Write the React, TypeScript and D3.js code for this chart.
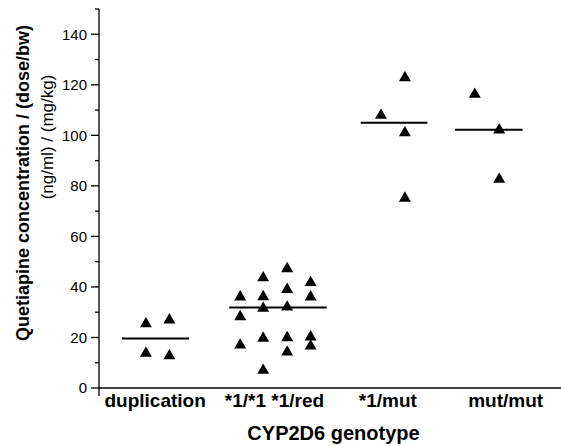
import React from "react";
import * as d3 from "d3";

// Groups (x in arbitrary data units along the genotype axis)
const groupLabels = ["duplication", "*1/*1 *1/red", "*1/mut", "mut/mut"];
const labelX = [1.22, 3.815, 6.28, 8.84];
const meanValues = [19.6, 31.9, 105.0, 102.2];
const meanStart = [0.5, 2.83, 5.69, 7.74];
const meanEnd = [1.96, 4.95, 7.14, 9.21];

// Individual observations: [group index, x slot (data units), value]
const pointGroup = [0, 0, 0, 0,
  1, 1, 1, 1, 1, 1, 1, 1, 1, 1, 1, 1, 1, 1, 1, 1, 1,
  2, 2, 2, 2,
  3, 3, 3];
const pointX = [1.02, 1.53, 1.02, 1.53,
  3.07, 3.07, 3.07, 3.57, 3.57, 3.57, 3.57, 3.57, 4.09, 4.09, 4.09, 4.09, 4.09, 4.6, 4.6, 4.6, 4.6,
  6.13, 6.65, 6.65, 6.65,
  8.17, 8.7, 8.7];
const pointY = [25.8, 27.3, 14.1, 13.1,
  36.4, 28.6, 17.4, 44.0, 36.5, 31.9, 20.1, 7.4, 47.6, 39.4, 32.4, 20.3, 14.6, 42.1, 36.4, 20.6, 17.0,
  108.3, 123.2, 101.4, 75.5,
  116.6, 102.5, 83.0];

const yMajorTicks = [0, 20, 40, 60, 80, 100, 120, 140];
const yMinorTicks = [10, 30, 50, 70, 90, 110, 130, 150];

const yTitle1 = "Quetiapine concentration / (dose/bw)";
const yTitle2 = "(ng/ml) / (mg/kg)";
const xTitle = "CYP2D6 genotype";

const FONT = "'Liberation Sans', Arial, Helvetica, sans-serif";

export default function App() {
  const W = 561;
  const H = 446;
  const axisX = 99;
  const axisY = 388;
  const y = d3.scaleLinear().domain([0, 150]).range([axisY, 9]);
  const x = d3.scaleLinear().domain([0, 10]).range([axisX, 559]);
  const tri = d3.symbol(d3.symbolTriangle, 62)();

  return (
    <svg width={W} height={H} style={{ position: "absolute", left: 0, top: 0, background: "#fff" }}>
      <rect x={0} y={0} width={W} height={H} fill="#fff" />
      {/* axes */}
      <line x1={axisX} x2={axisX} y1={y(150)} y2={axisY + 8} stroke="#000" strokeWidth={1.3} />
      <line x1={axisX} x2={W} y1={axisY} y2={axisY} stroke="#000" strokeWidth={1.3} />
      {yMajorTicks.map((t) => (
        <g key={"M" + t}>
          <line x1={axisX - 8} x2={axisX} y1={y(t)} y2={y(t)} stroke="#000" strokeWidth={1.3} />
          <text x={axisX - 12} y={y(t)} dy="0.36em" textAnchor="end" fontFamily={FONT} fontSize={15} fill="#000">
            {t}
          </text>
        </g>
      ))}
      {yMinorTicks.map((t) => (
        <line key={"m" + t} x1={axisX - 4} x2={axisX} y1={y(t)} y2={y(t)} stroke="#000" strokeWidth={1.3} />
      ))}
      {/* means */}
      {meanValues.map((m, i) => (
        <line key={"mean" + i} x1={x(meanStart[i])} x2={x(meanEnd[i])} y1={y(m)} y2={y(m)} stroke="#000" strokeWidth={2} />
      ))}
      {/* points */}
      {pointY.map((v, i) => (
        <path key={"p" + i} d={tri || ""} transform={`translate(${x(pointX[i])},${y(v) + 1})`} fill="#000" data-group={pointGroup[i]} />
      ))}
      {/* category labels */}
      {groupLabels.map((g, i) => (
        <text key={g} x={x(labelX[i])} y={407} textAnchor="middle" fontFamily={FONT} fontWeight="bold" fontSize={19} fill="#000">
          {g}
        </text>
      ))}
      <text x={333.5} y={440} textAnchor="middle" fontFamily={FONT} fontWeight="bold" fontSize={20} fill="#000">
        {xTitle}
      </text>
      <text transform="translate(29,183) rotate(-90)" textAnchor="middle" fontFamily={FONT} fontWeight="bold" fontSize={18} fill="#000">
        {yTitle1}
      </text>
      <text transform="translate(53,137) rotate(-90)" textAnchor="middle" fontFamily={FONT} fontSize={17} fill="#000">
        {yTitle2}
      </text>
    </svg>
  );
}
